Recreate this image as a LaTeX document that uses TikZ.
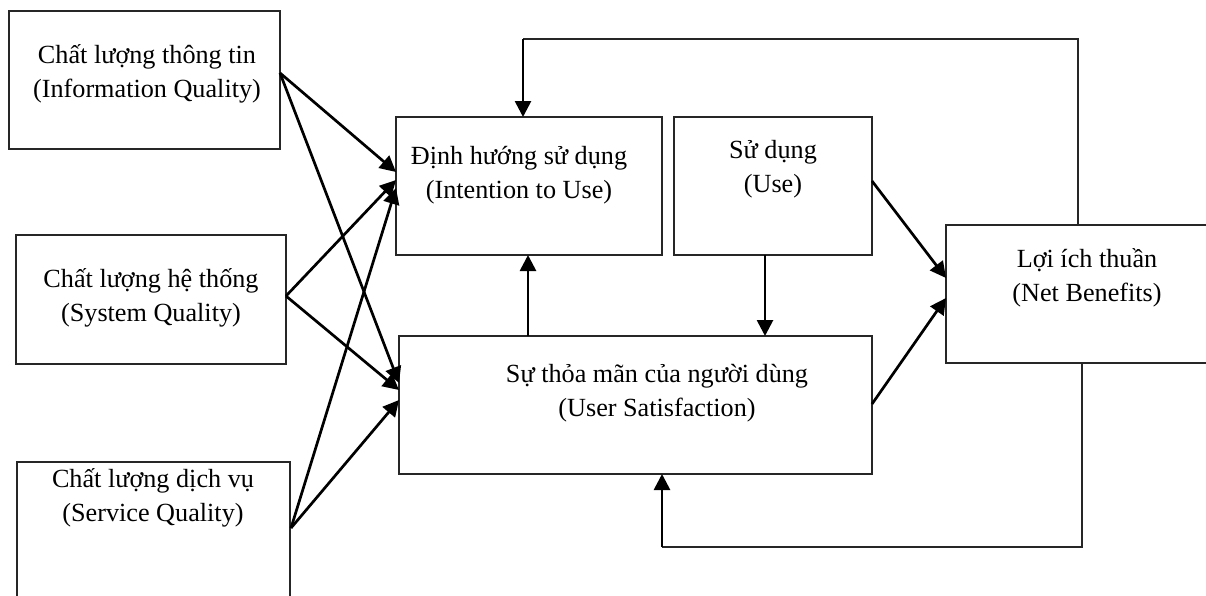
\documentclass[tikz,border=0pt]{standalone}
\usepackage{fontspec}
\setmainfont{Liberation Serif}
\usetikzlibrary{arrows.meta,calc}
\begin{document}
\begin{tikzpicture}[x=1pt,y=-1pt,
  box/.style={draw=black!85,line width=1.2pt,rectangle,anchor=north west,inner sep=0pt,outer sep=0pt},
  lbl/.style={align=center,inner sep=0pt,font=\fontsize{26.2}{34}\selectfont},
  arr/.style={line width=2.7pt,-{Triangle[length=16pt,width=16pt]}},
  fb/.style={line width=1.2pt,draw=black!85},
  fbarr/.style={line width=2.7pt,-{Triangle[length=16pt,width=16pt]}}]
\useasboundingbox (0,0) rectangle (1206,595);
% boxes
\node[box,minimum width=271pt,minimum height=138pt] (iq) at (9,11) {};
\node[box,minimum width=270pt,minimum height=129pt] (sq) at (16,235) {};
\node[box,minimum width=273pt,minimum height=170pt] (svq) at (17,462) {};
\node[box,minimum width=266pt,minimum height=138pt] (it) at (396,117) {};
\node[box,minimum width=198pt,minimum height=138pt] (use) at (674,117) {};
\node[box,minimum width=473pt,minimum height=138pt] (us) at (399,336) {};
\node[box,minimum width=300pt,minimum height=138pt] (nb) at (946,225) {};
% labels
\node[lbl] (iqT) at (147,74) {Chất lượng thông tin\\(Information Quality)};
\node[lbl] (sqT) at (151,298) {Chất lượng hệ thống\\(System Quality)};
\node[lbl] (svqT) at (153,498) {Chất lượng dịch vụ\\(Service Quality)};
\node[lbl] (itT) at (519,175) {Định hướng sử dụng\\(Intention to Use)};
\node[lbl] (useT) at (773,169) {Sử dụng\\(Use)};
\node[lbl] (usT) at (657,393) {Sự thỏa mãn của người dùng\\(User Satisfaction)};
\node[lbl] (nbT) at (1087,278) {Lợi ích thuần\\(Net Benefits)};
% quality -> intention / satisfaction
\draw[arr] ($(iq.north east)+(0,62)$) -- ($(it.north west)+(0,55)$);
\draw[arr] ($(iq.north east)+(0,62)$) -- ($(us.north west)+(0,47)$);
\draw[arr] ($(sq.north east)+(0,61)$) -- ($(it.north west)+(0,63)$);
\draw[arr] ($(sq.north east)+(0,61)$) -- ($(us.north west)+(0,54)$);
\draw[arr] ($(svq.north east)+(1,66)$) -- ($(it.north west)+(0,71)$);
\draw[arr] ($(svq.north east)+(1,66)$) -- ($(us.north west)+(0,64)$);
% satisfaction -> intention, use -> satisfaction
\draw[arr] ($(us.north west)+(129,0)$) coordinate (a1) -- (a1 |- it.south);
\draw[arr] ($(use.south west)+(91,0)$) coordinate (a2) -- (a2 |- us.north);
% to net benefits
\draw[arr] ($(use.north east)+(0,64)$) -- ($(nb.north west)+(0,53)$);
\draw[arr] ($(us.north east)+(0,68)$) -- ($(nb.north west)+(0,73)$);
% feedback top
\coordinate (t1) at ($(nb.north west)+(132,0)$);
\coordinate (t3) at ($(it.north west)+(127,-78)$);
\draw[fb] (t1) -- (t1 |- t3) -- (t3);
\draw[fbarr] (t3) -- (t3 |- it.north);
% feedback bottom
\coordinate (b1) at ($(nb.south west)+(136,0)$);
\coordinate (b3) at ($(us.south west)+(263,73)$);
\draw[fb] (b1) -- (b1 |- b3) -- (b3);
\draw[fbarr] (b3) -- (b3 |- us.south);
\end{tikzpicture}
\end{document}
